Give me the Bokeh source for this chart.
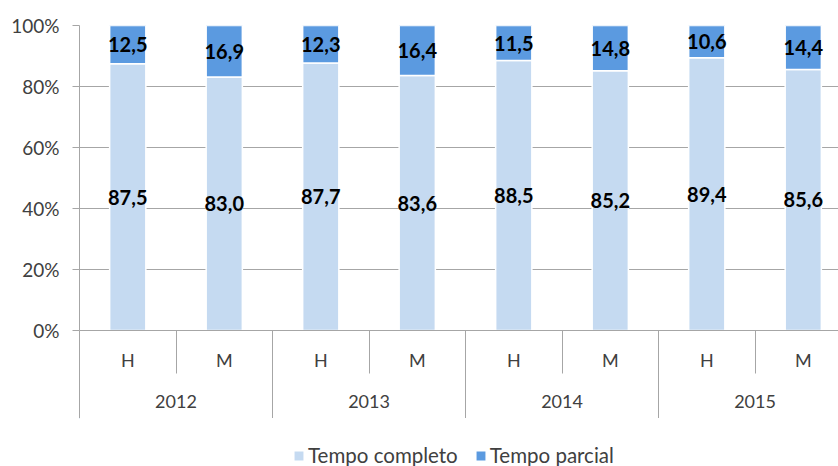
from bokeh.plotting import figure
from bokeh.layouts import column
from bokeh.models import (Range1d, FixedTicker, LinearAxis, Legend, LegendItem,
                          ColumnDataSource)
from bokeh.core.properties import value
from bokeh.embed import file_html
from bokeh.resources import INLINE

years = ["2012", "2013", "2014", "2015"]
sexes = ["H", "M"]
completo = [87.5, 83.0, 87.7, 83.6, 88.5, 85.2, 89.4, 85.6]
parcial = [12.5, 16.9, 12.3, 16.4, 11.5, 14.8, 10.6, 14.4]
y_ticks = [0, 20, 40, 60, 80, 100]
series_names = ["Tempo completo", "Tempo parcial"]
colors = ["#c5daf1", "#5b9ae0"]

FONT = "Lato"
TXT = "#404040"
GRID = "#a6a6a6"

n = len(completo)
xs = [i + 0.5 for i in range(n)]
totals = [c + q for c, q in zip(completo, parcial)]
c_top = [c / t * 100 for c, t in zip(completo, totals)]
p_top = [100.0] * n
src = ColumnDataSource(dict(
    x=xs, c_top=c_top, p_top=p_top,
    c_mid=[v / 2 for v in c_top],
    p_mid=[(a + b) / 2 for a, b in zip(c_top, p_top)],
    c_lab=[f"{v:.1f}".replace(".", ",") for v in completo],
    p_lab=[f"{v:.1f}".replace(".", ",") for v in parcial],
))

p = figure(width=838, height=418, output_backend="svg", toolbar_location=None,
           x_range=Range1d(0, 7.865), y_range=Range1d(0, 100),
           min_border_left=79, min_border_right=0, min_border_top=25,
           min_border_bottom=88, outline_line_color=None, x_axis_type=None)

r1 = p.vbar(x="x", bottom=0, top="c_top", width=0.375, source=src,
            fill_color=colors[0], line_color="white", line_width=1.5)
r2 = p.vbar(x="x", bottom="c_top", top="p_top", width=0.375, source=src,
            fill_color=colors[1], line_color="white", line_width=1.5)

for ycol, tcol in (("c_mid", "c_lab"), ("p_mid", "p_lab")):
    p.text(x="x", y=ycol, text=tcol, source=src, text_align="center",
           text_baseline="middle", text_font=value(FONT), text_font_style="bold",
           text_font_size="20px", text_color="black")

# y axis
p.yaxis.ticker = FixedTicker(ticks=y_ticks)
p.yaxis.major_label_overrides = {t: f"{t}%" for t in y_ticks}
p.yaxis.major_label_text_font = FONT
p.yaxis.major_label_text_font_size = "19px"
p.yaxis.major_label_text_color = TXT
p.yaxis.axis_line_color = GRID
p.yaxis.major_tick_line_color = GRID
p.yaxis.major_tick_out = 7
p.yaxis.major_tick_in = 0
p.yaxis.minor_tick_line_color = None
p.yaxis.major_label_standoff = 13

p.ygrid.ticker = FixedTicker(ticks=y_ticks)
p.ygrid.grid_line_color = GRID
p.xgrid.grid_line_color = None

# first level category axis (H / M)
ax1 = LinearAxis(ticker=FixedTicker(ticks=xs, minor_ticks=list(range(n))))
ax1.major_label_overrides = {x: sexes[i % 2] for i, x in enumerate(xs)}
ax1.major_tick_out = 0
ax1.major_tick_in = 0
ax1.minor_tick_in = 0
ax1.minor_tick_out = 43
ax1.minor_tick_line_color = GRID
ax1.axis_line_color = GRID
ax1.major_label_standoff = -25
ax1.major_label_text_font = FONT
ax1.major_label_text_font_size = "18px"
ax1.major_label_text_color = TXT
p.add_layout(ax1, "below")

# second level category axis (years)
year_mid = [2 * i + 1 for i in range(len(years))]
ax2 = LinearAxis(ticker=FixedTicker(ticks=year_mid,
                                    minor_ticks=[2 * i for i in range(len(years) + 1)]))
ax2.major_label_overrides = {m: y for m, y in zip(year_mid, years)}
ax2.major_tick_out = 0
ax2.major_tick_in = 0
ax2.minor_tick_in = 3
ax2.minor_tick_out = 46
ax2.minor_tick_line_color = GRID
ax2.axis_line_color = None
ax2.major_label_standoff = -25
ax2.major_label_text_font = FONT
ax2.major_label_text_font_size = "18px"
ax2.major_label_text_color = TXT
p.add_layout(ax2, "below")

# legend in its own strip below the chart (bars lie outside its visible range)
pl = figure(width=838, height=48, output_backend="svg", toolbar_location=None,
            x_range=Range1d(100, 101), y_range=Range1d(-300, -200),
            min_border_left=79, min_border_right=0, min_border_top=0,
            min_border_bottom=0, outline_line_color=None,
            x_axis_type=None, y_axis_type=None)
pl.grid.visible = False
l1 = pl.vbar(x="x", bottom=0, top="c_top", width=0.1, source=src,
             fill_color=colors[0], line_color="white", line_width=1.5)
l2 = pl.vbar(x="x", bottom="c_top", top="p_top", width=0.1, source=src,
             fill_color=colors[1], line_color="white", line_width=1.5)
legend = Legend(items=[LegendItem(label=series_names[0], renderers=[l1]),
                       LegendItem(label=series_names[1], renderers=[l2])],
                orientation="horizontal", location=(213, -1),
                margin=0, padding=0, spacing=16, label_standoff=3,
                glyph_width=13, glyph_height=13,
                label_text_font=FONT, label_text_font_size="20.5px",
                label_text_color=TXT, border_line_color=None,
                background_fill_alpha=0)
pl.add_layout(legend, "center")

open("out.html", "w").write(file_html(column(p, pl, spacing=0), INLINE))
